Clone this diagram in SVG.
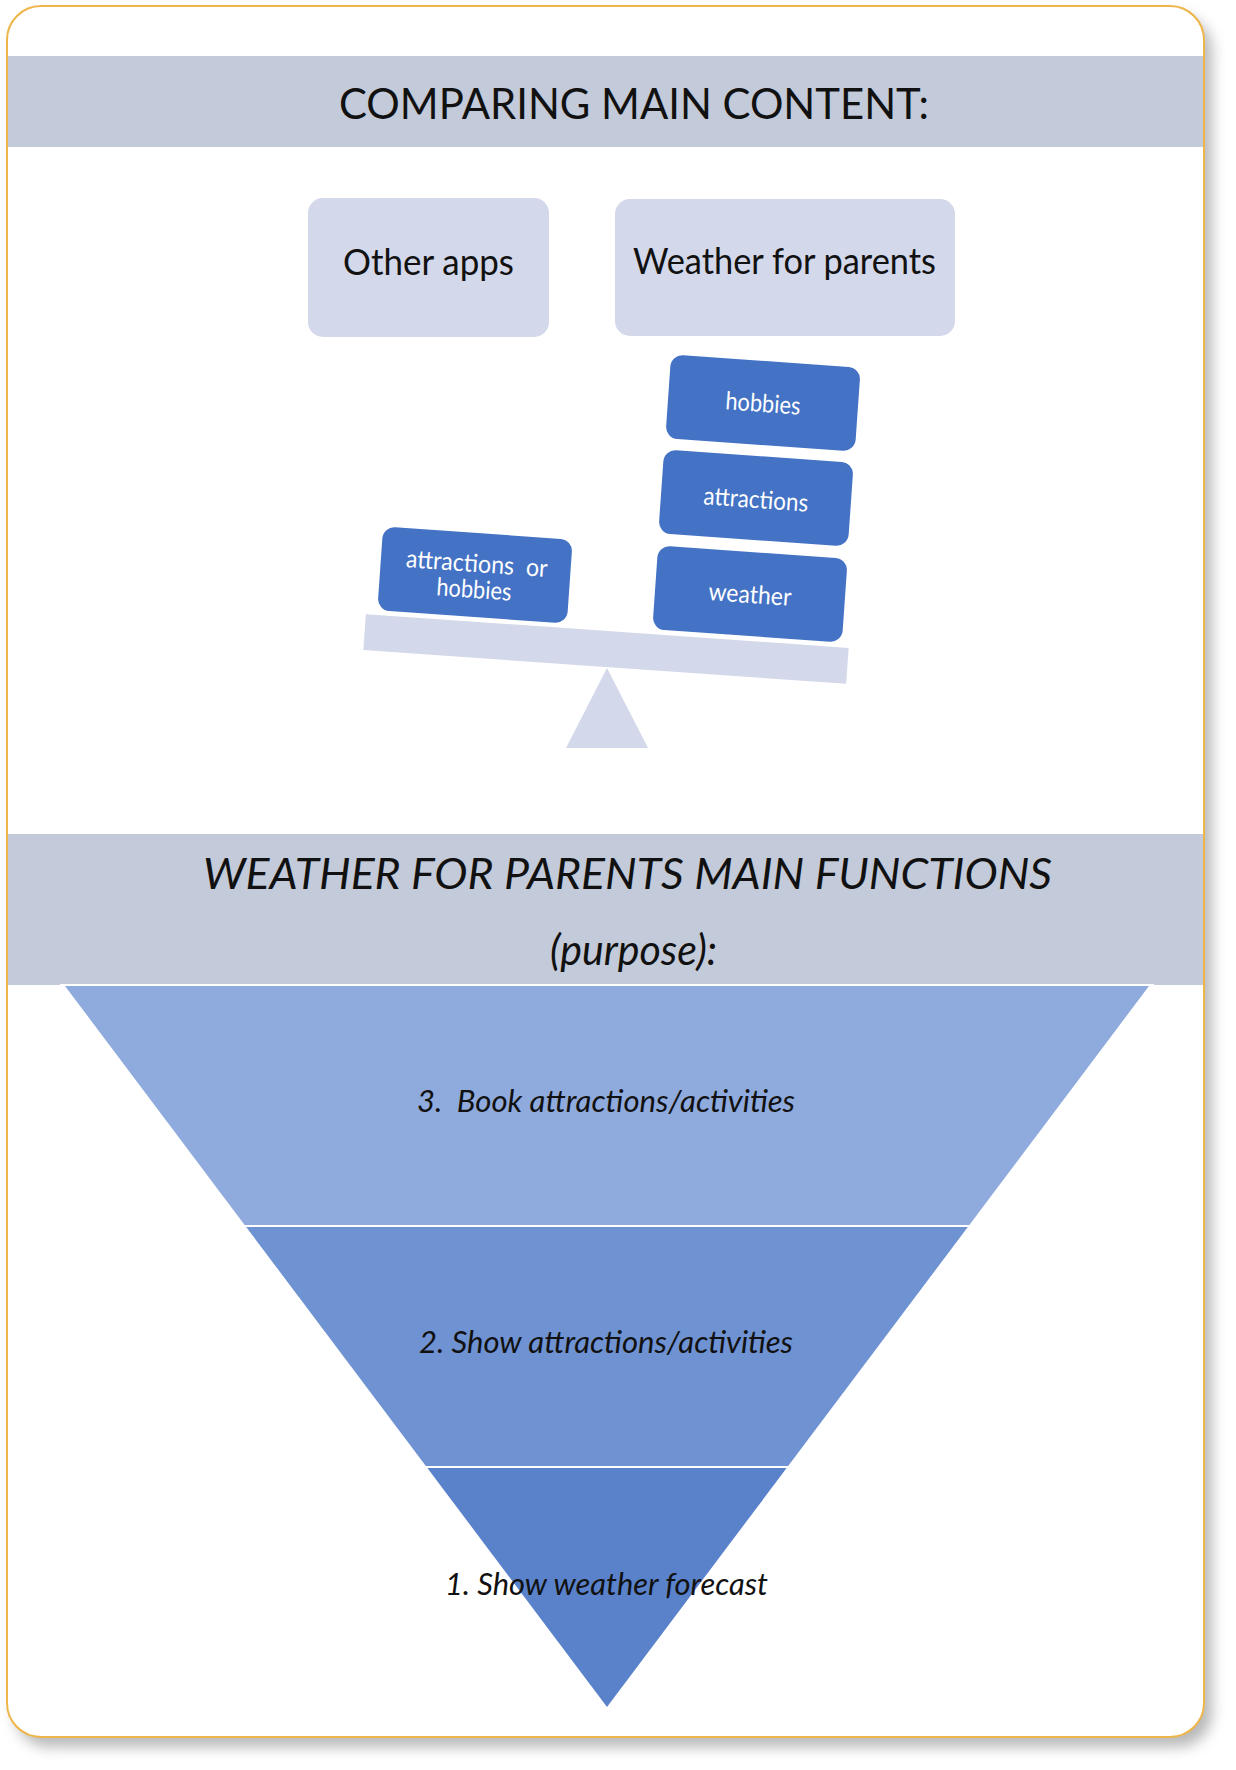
<svg xmlns="http://www.w3.org/2000/svg" width="1236" height="1770" viewBox="0 0 1236 1770">
  <defs>
    <filter id="cardShadow" x="-5%" y="-5%" width="112%" height="112%">
      <feDropShadow dx="8" dy="10" stdDeviation="7" flood-color="#000" flood-opacity="0.28"/>
    </filter>
    <style>
      text { white-space: pre; }
      .band { fill: #C3CAD9; }
      .title { font-family: "Lato", "Liberation Sans", sans-serif; font-size: 42px; fill: #111; }
      .pale { fill: #D3D8EA; }
      .label { font-family: "Lato", "Liberation Sans", sans-serif; font-size: 36px; fill: #111; }
      .block { fill: #4472C4; }
      .blockText { font-family: "Lato", "Liberation Sans", sans-serif; font-size: 25px; fill: #fff; text-anchor: middle; }
      .step { font-family: "Lato", "Liberation Sans", sans-serif; font-size: 30px; font-style: italic; fill: #111; text-anchor: middle; }
      .divider { stroke: #fff; stroke-width: 2; }
    </style>
  </defs>

  <!-- card background -->
  <rect x="7" y="6" width="1197" height="1731" rx="34" fill="#fff" filter="url(#cardShadow)"/>

  <!-- section header: comparison -->
  <g id="header-compare">
    <rect class="band" x="8" y="56" width="1195" height="91"/>
    <text class="title" x="339" y="119" textLength="590" lengthAdjust="spacingAndGlyphs">COMPARING MAIN CONTENT:</text>
  </g>

  <g id="other-apps">
    <rect class="pale" x="308" y="198" width="241" height="139" rx="15"/>
    <text class="label" x="343" y="275" textLength="171" lengthAdjust="spacingAndGlyphs">Other apps</text>
  </g>

  <g id="weather-for-parents">
    <rect class="pale" x="615" y="199" width="340" height="137" rx="15"/>
    <text class="label" x="633" y="274" textLength="303" lengthAdjust="spacingAndGlyphs">Weather for parents</text>
  </g>

  <!-- balance scale -->
  <g id="scale">
    <polygon class="pale" points="607,668 566,748 648,748"/>
    <g transform="translate(606,649) rotate(4)">
      <rect class="pale" x="-242" y="-18" width="484" height="36"/>
    </g>
  </g>

  <g id="block-attractions-or-hobbies" transform="translate(475,575) rotate(4)">
    <rect class="block" x="-95" y="-42" width="190" height="84" rx="12"/>
    <text class="blockText" x="1" y="-3" textLength="142" lengthAdjust="spacingAndGlyphs">attractions  or</text>
    <text class="blockText" x="0" y="23" textLength="75" lengthAdjust="spacingAndGlyphs">hobbies</text>
  </g>

  <g id="block-weather" transform="translate(750,594) rotate(4)">
    <rect class="block" x="-95" y="-42" width="190" height="84" rx="12"/>
    <text class="blockText" x="0" y="9" textLength="83" lengthAdjust="spacingAndGlyphs">weather</text>
  </g>

  <g id="block-attractions" transform="translate(756,498) rotate(4)">
    <rect class="block" x="-95" y="-42" width="190" height="84" rx="12"/>
    <text class="blockText" x="0" y="10" textLength="105" lengthAdjust="spacingAndGlyphs">attractions</text>
  </g>

  <g id="block-hobbies" transform="translate(763,403) rotate(4)">
    <rect class="block" x="-95" y="-42" width="190" height="84" rx="12"/>
    <text class="blockText" x="0" y="9" textLength="75" lengthAdjust="spacingAndGlyphs">hobbies</text>
  </g>

  <!-- section header: functions -->
  <g id="header-functions">
    <rect class="band" x="8" y="834" width="1195" height="151"/>
    <text class="title" x="203" y="889" font-style="italic" textLength="849" lengthAdjust="spacingAndGlyphs">WEATHER FOR PARENTS MAIN FUNCTIONS</text>
    <text class="title" x="550" y="965" font-style="italic" textLength="167" lengthAdjust="spacingAndGlyphs">(purpose):</text>
  </g>

  <!-- inverted funnel, three levels -->
  <g id="level-3">
    <polygon fill="#8FAADC" points="65,986 1149,986 968.6,1226 245.4,1226"/>
    <text class="step" x="606" y="1112" textLength="378" lengthAdjust="spacingAndGlyphs">3.  Book attractions/activities</text>
  </g>
  <g id="level-2">
    <polygon fill="#6F92D2" points="245.4,1226 968.6,1226 787.4,1467 426.6,1467"/>
    <text class="step" x="606" y="1353" textLength="374" lengthAdjust="spacingAndGlyphs">2. Show attractions/activities</text>
  </g>
  <g id="level-1">
    <polygon fill="#5A82CB" points="426.6,1467 787.4,1467 607,1707"/>
    <text class="step" x="606.5" y="1595" textLength="323" lengthAdjust="spacingAndGlyphs">1. Show weather forecast</text>
  </g>
  <g id="dividers">
    <line class="divider" x1="60" y1="985" x2="1154" y2="985"/>
    <line class="divider" x1="243" y1="1226" x2="971" y2="1226"/>
    <line class="divider" x1="424" y1="1467" x2="790" y2="1467"/>
  </g>

  <!-- card outline -->
  <rect x="7" y="6" width="1197" height="1731" rx="34" fill="none" stroke="#EEB548" stroke-width="2"/>
</svg>
